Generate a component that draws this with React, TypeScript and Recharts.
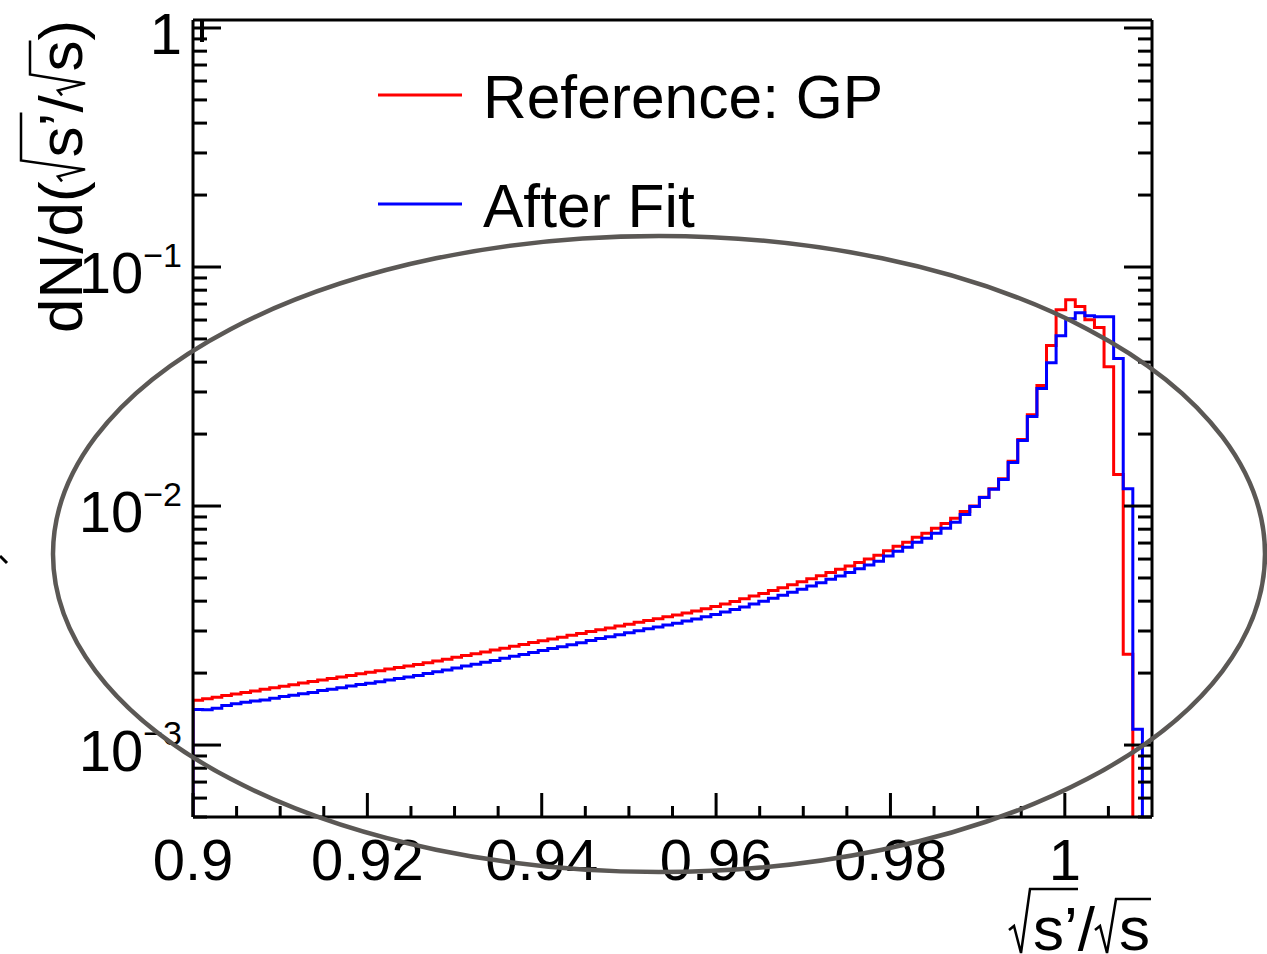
import { LineChart, Line, XAxis, YAxis, Legend } from 'recharts';

const FONT = '"Liberation Sans", Arial, Helvetica, sans-serif';

// histogram binning: 100 bins from 0.9 to 1.01
const X_MIN = 0.9;
const BIN_WIDTH = 0.0011;

// Reference: GP (red), bin contents
const REFERENCE_GP = [
  0.00154, 0.001563, 0.001586, 0.001611, 0.001636, 0.00166, 0.001684, 0.00171, 0.001737, 0.001762,
  0.001788, 0.001816, 0.001844, 0.00187, 0.0019, 0.001928, 0.001956, 0.001988, 0.002016, 0.002048,
  0.002078, 0.00211, 0.00214, 0.002175, 0.002207, 0.002246, 0.002285, 0.002328, 0.002368, 0.002412,
  0.002453, 0.002499, 0.002542, 0.00259, 0.002634, 0.002683, 0.00273, 0.00278, 0.002828, 0.00288,
  0.002932, 0.002983, 0.003038, 0.003091, 0.003148, 0.003202, 0.003262, 0.003318, 0.00338, 0.003438,
  0.003502, 0.00357, 0.00364, 0.00372, 0.0038, 0.00389, 0.00399, 0.00409, 0.0042, 0.00431,
  0.00443, 0.00455, 0.00468, 0.00482, 0.00496, 0.00511, 0.00527, 0.00544, 0.00561, 0.0058,
  0.006, 0.00622, 0.0065, 0.00678, 0.00705, 0.0074, 0.00769, 0.00807, 0.00846, 0.00888,
  0.00948, 0.01, 0.01087, 0.0118, 0.013, 0.0154, 0.019, 0.0241, 0.0319, 0.0469,
  0.0663, 0.073, 0.0683, 0.0602, 0.0558, 0.0383, 0.01355, 0.0024, 0, 0,
];

// After Fit (blue), bin contents
const AFTER_FIT = [
  0.00141, 0.001405, 0.001425, 0.001465, 0.00149, 0.00151, 0.00153, 0.001545, 0.00157, 0.001595,
  0.001615, 0.00164, 0.00166, 0.00169, 0.00171, 0.001735, 0.001765, 0.00179, 0.001815, 0.00184,
  0.00187, 0.0019, 0.001925, 0.001955, 0.00199, 0.002025, 0.00206, 0.0021, 0.00214, 0.00218,
  0.00222, 0.00226, 0.002305, 0.00235, 0.002395, 0.00244, 0.002485, 0.002535, 0.00258, 0.00263,
  0.00268, 0.002735, 0.00279, 0.00284, 0.002895, 0.00295, 0.003005, 0.003065, 0.00312, 0.00318,
  0.003235, 0.0033, 0.003365, 0.00344, 0.003515, 0.0036, 0.00369, 0.003785, 0.00389, 0.004,
  0.004115, 0.004235, 0.00436, 0.00449, 0.00463, 0.00478, 0.004935, 0.0051, 0.005275, 0.00546,
  0.00566, 0.00588, 0.00618, 0.00647, 0.00672, 0.00705, 0.00733, 0.0077, 0.00808, 0.00855,
  0.00922, 0.00996, 0.01085, 0.01175, 0.0129, 0.0152, 0.0188, 0.0237, 0.031, 0.0398,
  0.0516, 0.0608, 0.0644, 0.0626, 0.062, 0.062, 0.0414, 0.0118, 0.001165, 0,
];

const LEGEND_ORDER = ['Reference: GP', 'After Fit'];

const X_TICKS = [
  0.9, 0.905, 0.91, 0.915, 0.92, 0.925, 0.93, 0.935, 0.94, 0.945, 0.95, 0.955,
  0.96, 0.965, 0.97, 0.975, 0.98, 0.985, 0.99, 0.995, 1.0, 1.005,
];
const X_MAJOR = [0.9, 0.92, 0.94, 0.96, 0.98, 1.0];

const Y_TICKS = [
  0.0005, 0.0006, 0.0007, 0.0008, 0.0009,
  0.001, 0.002, 0.003, 0.004, 0.005, 0.006, 0.007, 0.008, 0.009,
  0.01, 0.02, 0.03, 0.04, 0.05, 0.06, 0.07, 0.08, 0.09,
  0.1, 0.2, 0.3, 0.4, 0.5, 0.6, 0.7, 0.8, 0.9, 1,
];

// empty bins sit below the log axis and get clipped
const EMPTY = 1e-5;

// step outline: rise at the first edge, one point per bin low edge, closing point at the last edge
const buildData = () => {
  const rows: { x: number; ref: number; fit: number }[] = [];
  rows.push({ x: X_MIN, ref: EMPTY, fit: EMPTY });
  REFERENCE_GP.forEach((v, i) => {
    rows.push({ x: X_MIN + i * BIN_WIDTH, ref: v || EMPTY, fit: AFTER_FIT[i] || EMPTY });
  });
  const n = REFERENCE_GP.length;
  rows.push({
    x: X_MIN + n * BIN_WIDTH,
    ref: REFERENCE_GP[n - 1] || EMPTY,
    fit: AFTER_FIT[n - 1] || EMPTY,
  });
  return rows;
};

const data = buildData();

const isMajorX = (v: number) => X_MAJOR.some((m) => Math.abs(m - v) < 1e-6);
const isMajorY = (v: number) => {
  const l = Math.log10(v);
  return Math.abs(l - Math.round(l)) < 1e-6;
};

const BottomTick = (props: any) => {
  const { x, y, payload } = props;
  const major = isMajorX(payload.value);
  const label = Math.abs(payload.value - 1) < 1e-9 ? '1' : String(+payload.value.toFixed(2));
  return (
    <g>
      <line x1={x} x2={x} y1={y} y2={y - (major ? 24 : 11)} stroke="#000" strokeWidth={3} />
      {major && (
        <text x={x} y={y + 63} textAnchor="middle" fontSize={58} fontFamily={FONT} fill="#000">
          {label}
        </text>
      )}
    </g>
  );
};

const TopTick = (props: any) => {
  const { x, y, payload } = props;
  const major = isMajorX(payload.value);
  return <line x1={x} x2={x} y1={y} y2={y + (major ? 22 : 11)} stroke="#000" strokeWidth={3} />;
};

const LeftTick = (props: any) => {
  const { x, y, payload } = props;
  const major = isMajorY(payload.value);
  const exp = Math.round(Math.log10(payload.value));
  return (
    <g>
      <line x1={x} x2={x + (major ? 28 : 14)} y1={y} y2={y} stroke="#000" strokeWidth={3} />
      {major && (
        <text x={x - 11} y={y + 26} textAnchor="end" fontSize={58} fontFamily={FONT} fill="#000">
          {exp === 0 ? (
            '1'
          ) : (
            <>
              <tspan>10</tspan>
              <tspan dy={-26} fontSize={34}>{`\u2212${-exp}`}</tspan>
            </>
          )}
        </text>
      )}
    </g>
  );
};

const RightTick = (props: any) => {
  const { x, y, payload } = props;
  const major = isMajorY(payload.value);
  return <line x1={x} x2={x - (major ? 28 : 14)} y1={y} y2={y} stroke="#000" strokeWidth={3} />;
};

const renderLegend = (props: any) => {
  const items = [...(props.payload || [])].sort(
    (a: any, b: any) => LEGEND_ORDER.indexOf(a.value) - LEGEND_ORDER.indexOf(b.value),
  );
  return (
    <svg width={640} height={210}>
      {items.map((it: any, i: number) => (
        <g key={it.value} transform={`translate(0, ${i * 109})`}>
          <line x1={8} x2={92} y1={45} y2={45} stroke={it.color} strokeWidth={3} />
          <text x={113} y={68} fontSize={60.5} fontFamily={FONT} fill="#000">
            {it.value}
          </text>
        </g>
      ))}
    </svg>
  );
};

// radical sign drawn as a path: starts at a, vinculum at height top (negative = above baseline) up to end
const radical = (a: number, top: number, end: number) =>
  `M ${a} -20 L ${a + 5} -24 L ${a + 12} 3 L ${a + 21} ${top} L ${end} ${top}`;

// title "√s’/√s" pieces, Liberation Sans advance widths at 62px
const TITLE_FS = 62;

const axisLine = { stroke: '#000', strokeWidth: 3 };

export default function App() {
  return (
    <div style={{ position: 'absolute', left: 0, top: 0, width: 1267, height: 954, background: '#fff' }}>
      <LineChart
        width={1267}
        height={954}
        data={data}
        margin={{ top: 19, right: 114, bottom: 136, left: 192 }}
      >
        <XAxis
          xAxisId="b"
          dataKey="x"
          type="number"
          domain={[0.9, 1.01]}
          allowDataOverflow
          ticks={X_TICKS}
          interval={0}
          height={1}
          tickSize={0}
          tickMargin={0}
          tickLine={false}
          axisLine={axisLine}
          tick={BottomTick}
        />
        <XAxis
          xAxisId="t"
          orientation="top"
          type="number"
          domain={[0.9, 1.01]}
          allowDataOverflow
          ticks={X_TICKS}
          interval={0}
          height={1}
          tickSize={0}
          tickMargin={0}
          tickLine={false}
          axisLine={axisLine}
          tick={TopTick}
        />
        <YAxis
          yAxisId="l"
          type="number"
          scale="log"
          domain={[0.0005, 1.08]}
          allowDataOverflow
          ticks={Y_TICKS}
          interval={0}
          width={1}
          tickSize={0}
          tickMargin={0}
          tickLine={false}
          axisLine={axisLine}
          tick={LeftTick}
        />
        <YAxis
          yAxisId="r"
          orientation="right"
          type="number"
          scale="log"
          domain={[0.0005, 1.08]}
          allowDataOverflow
          ticks={Y_TICKS}
          interval={0}
          width={1}
          tickSize={0}
          tickMargin={0}
          tickLine={false}
          axisLine={axisLine}
          tick={RightTick}
        />
        <Legend
          layout="vertical"
          verticalAlign="middle"
          align="center"
          content={renderLegend}
          wrapperStyle={{ position: 'absolute', left: 370, top: 50, width: 640, height: 210 }}
        />
        <Line
          xAxisId="b"
          yAxisId="l"
          type="stepAfter"
          dataKey="ref"
          name="Reference: GP"
          stroke="#ff0000"
          strokeWidth={3}
          dot={false}
          isAnimationActive={false}
        />
        <Line
          xAxisId="b"
          yAxisId="l"
          type="stepAfter"
          dataKey="fit"
          name="After Fit"
          stroke="#0000ff"
          strokeWidth={3}
          dot={false}
          isAnimationActive={false}
        />
      </LineChart>
      <svg
        width={1267}
        height={954}
        style={{ position: 'absolute', left: 0, top: 0, pointerEvents: 'none' }}
      >
        {/* y title, reads bottom to top; local x runs along the text, baseline at local y = 0 */}
        <g transform="translate(82, 18) rotate(-90)" fontSize={TITLE_FS} fontFamily={FONT} fill="#000">
          <text x={-315}>dN/d(</text>
          <path d={radical(-163.4, -61, -94.6)} fill="none" stroke="#000" strokeWidth={2.5} />
          <text x={-139.4}>s’</text>
          <text x={-94.6}>/</text>
          <path d={radical(-77.4, -52, -22.4)} fill="none" stroke="#000" strokeWidth={2.5} />
          <text x={-53.4}>s)</text>
        </g>
        {/* x title */}
        <g transform="translate(0, 950)" fontSize={TITLE_FS} fontFamily={FONT} fill="#000">
          <path d={radical(1009, -61, 1078)} fill="none" stroke="#000" strokeWidth={2.5} />
          <text x={1033}>s’</text>
          <text x={1077.8}>/</text>
          <path d={radical(1095, -51, 1151)} fill="none" stroke="#000" strokeWidth={2.5} />
          <text x={1119}>s</text>
        </g>
        <line x1={0} y1={556} x2={7} y2={563} stroke="#000" strokeWidth={3} />
        <ellipse cx={659} cy={554} rx={606} ry={318} fill="none" stroke="#5b5855" strokeWidth={4.5} />
      </svg>
    </div>
  );
}
